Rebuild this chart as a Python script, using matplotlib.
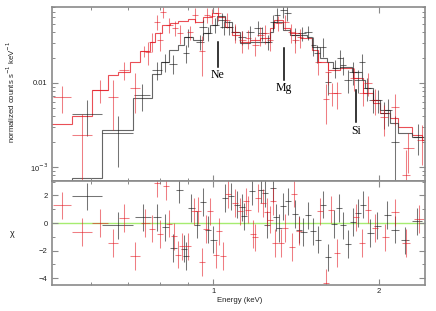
import numpy as np
import matplotlib
matplotlib.use("Agg")
import matplotlib.pyplot as plt
from matplotlib.ticker import FixedLocator, NullFormatter, FixedFormatter

# ---------------- data ----------------
# black model (step) : bin edges (keV) and values (counts/s/keV)
bm_edges = [0.555, 0.629, 0.716, 0.775, 0.805, 0.832, 0.864, 0.886, 0.920, 0.959,
            0.988, 1.017, 1.051, 1.083, 1.119, 1.167, 1.217, 1.269, 1.285, 1.340,
            1.379, 1.427, 1.481, 1.512, 1.564, 1.610, 1.651, 1.700, 1.788, 1.864,
            1.887, 1.951, 2.009, 2.095, 2.167, 2.297, 2.43]
bm_vals = [0.00074, 0.00275, 0.0066, 0.0128, 0.0178, 0.0247, 0.0283, 0.0353, 0.0325, 0.0394,
           0.049, 0.0628, 0.0533, 0.0404, 0.030, 0.0308, 0.0308, 0.0404, 0.0533, 0.0428,
           0.0373, 0.0373, 0.0353, 0.0268, 0.0199, 0.0178, 0.0151, 0.0155, 0.0135, 0.0109,
           0.0087, 0.0063, 0.0048, 0.00334, 0.00254, 0.00228]

# red model (step)
rm_edges = [0.505, 0.555, 0.603, 0.645, 0.672, 0.707, 0.737, 0.769, 0.785, 0.808,
            0.835, 0.864, 0.901, 0.927, 0.959, 0.996, 1.021, 1.051, 1.083, 1.119,
            1.167, 1.217, 1.269, 1.290, 1.340, 1.379, 1.439, 1.512, 1.551, 1.617,
            1.700, 1.795, 1.872, 1.951, 2.009, 2.095, 2.167, 2.297, 2.395, 2.43]
rm_vals = [0.0032, 0.00405, 0.0083, 0.0125, 0.0135, 0.0178, 0.0240, 0.0308, 0.0394, 0.049,
           0.0518, 0.0547, 0.0578, 0.0533, 0.061, 0.068, 0.061, 0.0465, 0.0373, 0.0308,
           0.0325, 0.0343, 0.0452, 0.0562, 0.0452, 0.0394, 0.0343, 0.0247, 0.0178, 0.0143,
           0.0151, 0.0115, 0.0076, 0.0058, 0.0044, 0.0038, 0.0030, 0.0024, 0.0021]

# black data
bd_E = [0.591, 0.672, 0.743, 0.791, 0.817, 0.846, 0.893, 0.901, 0.947, 0.959,
        0.979, 1.008, 1.038, 1.047, 1.07, 1.096, 1.129, 1.167, 1.207, 1.227,
        1.258, 1.285, 1.307, 1.340, 1.362, 1.409, 1.45, 1.487, 1.518, 1.545,
        1.583, 1.617, 1.665, 1.70, 1.72, 1.757, 1.795, 1.83, 1.864, 1.90,
        1.95, 1.992, 2.04, 2.08, 2.138, 2.35]
bd_v = [0.0043, 0.0025, 0.0072, 0.0143, 0.0178, 0.017, 0.0228, 0.0353, 0.031, 0.0465,
        0.039, 0.049, 0.056, 0.046, 0.046, 0.040, 0.035, 0.040, 0.045, 0.039,
        0.031, 0.053, 0.064, 0.074, 0.068, 0.037, 0.039, 0.040, 0.028, 0.0228,
        0.027, 0.0103, 0.0151, 0.0199, 0.0164, 0.0109, 0.0135, 0.0109, 0.0178, 0.0087,
        0.0063, 0.0063, 0.0044, 0.0047, 0.0020, 0.0023]
bd_rel = [0.45, 0.6, 0.35, 0.25, 0.25, 0.25, 0.25, 0.25, 0.2, 0.2,
          0.2, 0.2, 0.2, 0.2, 0.2, 0.2, 0.2, 0.2, 0.2, 0.2,
          0.2, 0.2, 0.2, 0.2, 0.2, 0.2, 0.2, 0.2, 0.25, 0.25,
          0.25, 0.3, 0.25, 0.25, 0.25, 0.3, 0.3, 0.3, 0.25, 0.3,
          0.3, 0.3, 0.35, 0.35, 1.0, 0.4]
bd_xe = [0.037, 0.043, 0.026, 0.015, 0.014, 0.015, 0.012, 0.015, 0.015, 0.015,
         0.015, 0.015, 0.016, 0.016, 0.016, 0.017, 0.018, 0.02, 0.02, 0.02,
         0.02, 0.016, 0.016, 0.02, 0.02, 0.024, 0.024, 0.024, 0.016, 0.02,
         0.02, 0.02, 0.022, 0.02, 0.02, 0.03, 0.03, 0.03, 0.025, 0.03,
         0.03, 0.03, 0.035, 0.035, 0.04, 0.05]

# red data
rd_E = [0.532, 0.578, 0.624, 0.659, 0.689, 0.722, 0.749, 0.762, 0.775, 0.791,
        0.80, 0.811, 0.832, 0.853, 0.871, 0.908, 0.927, 0.955, 0.975, 0.996,
        1.021, 1.06, 1.096, 1.129, 1.157, 1.192, 1.217, 1.243, 1.269, 1.312,
        1.351, 1.385, 1.409, 1.437, 1.551, 1.60, 1.617, 1.645, 1.678, 1.80,
        1.872, 1.91, 1.967, 2.04, 2.138, 2.24, 2.26, 2.395]
rd_v = [0.0068, 0.0024, 0.0083, 0.0068, 0.0143, 0.0087, 0.024, 0.0234, 0.031, 0.053,
        0.032, 0.070, 0.049, 0.045, 0.039, 0.040, 0.064, 0.024, 0.064, 0.063,
        0.068, 0.056, 0.040, 0.032, 0.034, 0.028, 0.037, 0.039, 0.032, 0.052,
        0.053, 0.040, 0.032, 0.035, 0.0178, 0.0064, 0.0135, 0.0076, 0.0076, 0.0115,
        0.0076, 0.0100, 0.0063, 0.0039, 0.0052, 0.0008, 0.0017, 0.0021]
rd_rel = [0.35, 0.8, 0.3, 0.6, 0.25, 0.5, 0.15, 0.3, 0.25, 0.2,
          0.25, 0.15, 0.2, 0.2, 0.25, 0.2, 0.2, 0.5, 0.2, 0.2,
          0.2, 0.2, 0.25, 0.3, 0.25, 0.25, 0.25, 0.25, 0.25, 0.2,
          0.2, 0.25, 0.3, 0.25, 0.3, 0.5, 0.3, 0.3, 0.35, 0.3,
          0.3, 0.3, 0.35, 0.4, 0.4, 1.0, 0.5, 0.5]
rd_xe = [0.019, 0.024, 0.021, 0.014, 0.015, 0.016, 0.012, 0.01, 0.01, 0.01,
         0.01, 0.01, 0.012, 0.012, 0.012, 0.012, 0.013, 0.013, 0.013, 0.013,
         0.013, 0.015, 0.016, 0.016, 0.016, 0.017, 0.017, 0.017, 0.017, 0.02,
         0.02, 0.02, 0.02, 0.02, 0.02, 0.02, 0.02, 0.03, 0.025, 0.03,
         0.03, 0.03, 0.035, 0.035, 0.04, 0.04, 0.05, 0.05]

# residuals (chi) black
br_E = [0.591, 0.672, 0.746, 0.791, 0.818, 0.846, 0.868, 0.886, 0.893, 0.912,
        0.935, 0.959, 0.979, 1.0, 1.051, 1.078, 1.105, 1.129, 1.138, 1.177,
        1.222, 1.243, 1.253, 1.285, 1.301, 1.318, 1.340, 1.368, 1.409, 1.433,
        1.457, 1.487, 1.518, 1.551, 1.583, 1.617, 1.658, 1.693, 1.722, 1.758,
        1.795, 1.833, 1.872, 1.927, 1.985, 2.069, 2.138, 2.229, 2.345]
br_chi = [1.93, -0.17, 0.41, 0.41, -0.31, -1.81, 2.42, -1.86, -2.4, 1.09,
          -0.12, 1.52, -0.48, -1.2, 1.81, 1.93, 1.33, 1.14, 0.48, 2.34,
          2.42, 2.17, -0.12, 2.54, 0.41, -0.36, 1.21, 1.57, 0.65, -0.48,
          -0.65, 0.56, -0.6, -1.2, 1.33, -2.49, -0.07, 1.09, -0.17, -1.52,
          0.07, 0.72, 1.33, -0.72, -0.19, 0.6, -0.48, -1.26, 0.12]
br_xe = [0.037, 0.043, 0.026, 0.012, 0.012, 0.012, 0.012, 0.012, 0.012, 0.013,
         0.013, 0.013, 0.013, 0.014, 0.015, 0.015, 0.015, 0.015, 0.015, 0.016,
         0.016, 0.016, 0.016, 0.017, 0.017, 0.017, 0.018, 0.018, 0.019, 0.019,
         0.02, 0.02, 0.02, 0.02, 0.021, 0.021, 0.022, 0.022, 0.023, 0.023,
         0.024, 0.024, 0.025, 0.027, 0.028, 0.03, 0.04, 0.04, 0.05]

# residuals (chi) red
rr_E = [0.532, 0.578, 0.624, 0.659, 0.689, 0.722, 0.753, 0.775, 0.791, 0.801,
        0.822, 0.832, 0.850, 0.864, 0.879, 0.901, 0.924, 0.939, 0.955, 0.971,
        0.988, 1.013, 1.025, 1.043, 1.065, 1.096, 1.119, 1.148, 1.157, 1.182,
        1.192, 1.207, 1.232, 1.253, 1.269, 1.285, 1.296, 1.329, 1.351, 1.391,
        1.403, 1.433, 1.564, 1.604, 1.637, 1.679, 1.817, 1.864, 1.911, 1.967,
        2.051, 2.138, 2.240, 2.365]
rr_chi = [1.28, -0.65, 0.0, -1.47, 0.36, -2.4, 0.0, -0.41, 2.9, -0.8,
          2.66, -0.05, -0.97, -2.3, -1.7, -1.7, 0.85, 0.9, -2.85, -0.43,
          0.85, -2.3, -0.6, -2.4, 2.1, 1.45, 0.85, 1.57, 0.97, -0.8,
          -1.04, 1.81, 1.45, 0.8, 0.24, 1.57, -1.45, -1.45, -0.36, -1.76,
          2.13, -0.56, 0.85, -4.35, 0.97, -2.17, 0.41, -1.45, 0.97, -0.36,
          -1.04, 0.77, -1.47, 0.31]
rr_xe = [0.019, 0.024, 0.021, 0.014, 0.015, 0.016, 0.014, 0.01, 0.01, 0.01,
         0.01, 0.01, 0.011, 0.011, 0.011, 0.011, 0.012, 0.012, 0.012, 0.012,
         0.012, 0.013, 0.013, 0.013, 0.013, 0.014, 0.014, 0.014, 0.014, 0.015,
         0.015, 0.015, 0.015, 0.016, 0.016, 0.016, 0.016, 0.017, 0.017, 0.018,
         0.018, 0.018, 0.02, 0.02, 0.02, 0.02, 0.022, 0.022, 0.024, 0.025,
         0.03, 0.035, 0.04, 0.05]

# line labels: (name, energy, line top, line bottom, text y)
lines = [("Ne", 1.02, 0.0308, 0.0155, 0.0125),
         ("Mg", 1.345, 0.026, 0.0109, 0.0087),
         ("Si", 1.818, 0.0083, 0.0034, 0.0027)]

# ---------------- style ----------------
plt.rcParams['font.family'] = ['Liberation Sans', 'DejaVu Sans']
BLACK = '#1a1a1a'
RED = '#e3141e'
SPINE = '#8a8a8a'

fig = plt.figure(figsize=(4.36, 3.11), dpi=100)
ax1 = fig.add_axes([0.1193, 0.418, 0.8555, 0.5595])
ax2 = fig.add_axes([0.1193, 0.0836, 0.8555, 0.3344], sharex=ax1)

xlim = (0.51, 2.423)

# top panel
ax1.stairs(rm_vals, rm_edges, color=RED, lw=0.8, alpha=0.75, baseline=None)
ax1.stairs(bm_vals, bm_edges, color='#404040', lw=0.8, alpha=0.8, baseline=1e-6)

bd_v_a = np.array(bd_v)
ax1.errorbar(bd_E, bd_v, yerr=bd_v_a * np.array(bd_rel), xerr=bd_xe, fmt='none',
             ecolor=BLACK, elinewidth=0.75, alpha=0.6, capsize=0)
rd_v_a = np.array(rd_v)
ax1.errorbar(rd_E, rd_v, yerr=rd_v_a * np.array(rd_rel), xerr=rd_xe, fmt='none',
             ecolor=RED, elinewidth=0.75, alpha=0.55, capsize=0)

for name, e, top, bot, ty in lines:
    ax1.plot([e, e], [bot, top], color='black', lw=1.1)
    ax1.text(e, ty, name, ha='center', va='center', fontsize=8.5,
             family=['Liberation Serif', 'DejaVu Serif'])

ax1.set_xscale('log')
ax1.set_yscale('log')
ax1.set_xlim(*xlim)
ax1.set_ylim(6.8e-4, 0.080)
ax1.yaxis.set_major_locator(FixedLocator([0.001, 0.01]))
ax1.yaxis.set_major_formatter(FixedFormatter(['10$^{-3}$', '0.01']))
ax1.yaxis.set_minor_locator(FixedLocator([m * 1e-4 for m in range(7, 10)] +
                                         [m * 1e-3 for m in range(2, 10)] +
                                         [m * 1e-2 for m in range(2, 9)]))
ax1.yaxis.set_minor_formatter(NullFormatter())
plt.setp(ax1.get_xticklabels(), visible=False)

# bottom panel
ax2.axhline(0, color='#a6ec70', lw=1.0, zorder=1)
ax2.errorbar(br_E, br_chi, yerr=1.0, xerr=br_xe, fmt='none',
             ecolor=BLACK, elinewidth=0.75, alpha=0.6, capsize=0, zorder=2)
ax2.errorbar(rr_E, rr_chi, yerr=1.0, xerr=rr_xe, fmt='none',
             ecolor=RED, elinewidth=0.75, alpha=0.55, capsize=0, zorder=2)
ax2.set_ylim(-4.5, 3.05)
ax2.set_xlim(*xlim)
ax2.yaxis.set_major_locator(FixedLocator([-4, -2, 0, 2]))
ax2.yaxis.set_major_formatter(FixedFormatter(['\u22124', '\u22122', '0', '2']))
ax2.yaxis.set_minor_locator(FixedLocator([-3, -1, 1, 3]))
ax2.xaxis.set_major_locator(FixedLocator([1, 2]))
ax2.xaxis.set_major_formatter(FixedFormatter(['1', '2']))
ax2.xaxis.set_minor_locator(FixedLocator([0.6, 0.7, 0.8, 0.9]))
ax2.xaxis.set_minor_formatter(NullFormatter())

for ax in (ax1, ax2):
    for s in ax.spines.values():
        s.set_color(SPINE)
        s.set_linewidth(1.2)
    ax.tick_params(which='both', direction='in', top=True, right=True,
                   color=SPINE, labelsize=5.5, labelcolor='#222222')
    ax.tick_params(which='major', length=4, width=0.8, pad=3)
    ax.tick_params(which='minor', length=2.5, width=0.7)
ax2.tick_params(axis='x', which='major', pad=2.5)

fig.text(11 / 436, 1 - 91.5 / 311, 'normalized counts s$^{-1}$ keV$^{-1}$',
         rotation=90, ha='center', va='center', fontsize=5.6, color='#222222')
fig.text(12 / 436, 1 - 233 / 311, '\u03c7', ha='center', va='center',
         fontsize=6.5, color='#222222')
fig.text(240 / 436, 1 - 301 / 311, 'Energy (keV)', ha='center', va='center',
         fontsize=5.6, color='#222222')

fig.savefig('out.png', dpi=100)
